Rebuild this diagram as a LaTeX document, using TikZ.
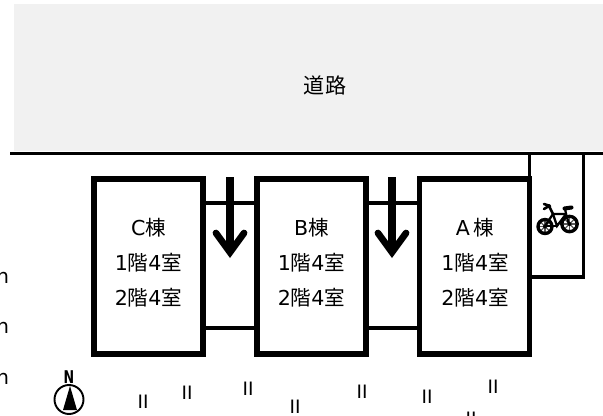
\documentclass[tikz,border=0pt]{standalone}
\usepackage{fontspec}
\setmainfont{DejaVu Sans}
\newfontfamily\cjk{Noto Sans CJK JP}
\usetikzlibrary{arrows.meta}
\usetikzlibrary{calc}
\definecolor{custom-gray}{RGB}{241, 241, 241}
\newcommand{\kai}[1]{1{\cjk 階}4{\cjk 室}\\[0.24cm]2{\cjk 階}4{\cjk 室}}
\tikzset{
  bldg/.style={draw=black, line width=3.3pt, fill=white, minimum height=3.5cm, inner sep=0pt},
  bldglabel/.style={font=\fontsize{11.7}{13}\selectfont, align=center, inner sep=0pt},
  wall/.style={draw=black, line width=1.9pt},
  walkway/.style={draw=black, line width=4pt, -{Straight Barb[length=11pt, width=16pt, line width=3.8pt, line cap=round, line join=miter]}},
  bars/.style={font=\fontsize{10.5}{12}\selectfont, inner sep=0pt},
  cutoff/.style={font=\fontsize{11.4}{13}\selectfont, inner sep=0pt, anchor=base east},
}
\begin{document}
\begin{tikzpicture}[x=0.02cm, y=-0.02cm]
\useasboundingbox (0,0) rectangle (603,416);
% road
\fill[custom-gray] (14,4) rectangle (603,151);
\node[font=\fontsize{12}{13}\selectfont, inner sep=0pt] (roadlabel) at (325,85) {\cjk 道路};
\coordinate (roadstart) at (10,153.5);
\coordinate (roadend) at (603,153.5);
\draw[wall] (roadstart) -- (roadend);
% bike shelter
\coordinate (sheltertl) at (529.5,153.5);
\coordinate (sheltertr) at (583.5,153.5);
\coordinate (shelterbr) at (583.5,277);
\coordinate (shelterbl) at (529.5,277);
\draw[wall] (sheltertl) -- (529.5,180);
\draw[wall] (sheltertr) -- (shelterbr) -- (shelterbl);
% buildings
\node[bldg, minimum width=2.18cm] (cbldg) at (148.5,266.5) {};
\node[bldg, minimum width=2.18cm] (bbldg) at (311.5,266.5) {};
\node[bldg, minimum width=2.2cm] (abldg) at (474.5,266.5) {};
\node[bldglabel] (clabel) at (148.5,263) {C{\cjk 棟}\\[0.24cm]\kai{}};
\node[bldglabel] (blabel) at (311.5,263) {B{\cjk 棟}\\[0.24cm]\kai{}};
\node[bldglabel] (alabel) at (475,263) {A\,{\cjk 棟}\\[0.24cm]\kai{}};
% corridors
\draw[wall] (cbldg.east |- 0,203) -- (bbldg.west |- 0,203);
\draw[wall] (bbldg.east |- 0,203) -- (abldg.west |- 0,203);
\draw[wall] (cbldg.east |- 0,328) -- (bbldg.west |- 0,328);
\draw[wall] (bbldg.east |- 0,328) -- (abldg.west |- 0,328);
% arrows
\coordinate (leftfrom) at (230,177);
\coordinate (leftto) at (230,258);
\coordinate (rightfrom) at (392,177);
\coordinate (rightto) at (392,258);
\draw[walkway] (leftfrom) -- (leftto);
\draw[walkway] (rightfrom) -- (rightto);
% bicycle
\foreach \cx/\cy/\rr in {545/226.5/7, 569.5/224/7.7} {
  \foreach \ang in {0,45,...,315}
    \draw[line width=0.7pt, gray!70!black] (\cx,\cy) -- ++(\ang:\rr);
  \draw[line width=1.9pt] (\cx,\cy) circle (\rr);
  \fill (\cx,\cy) circle (2);
}
\draw[line width=1.3pt, line cap=round] (545,226) -- (553,214) -- (566,214) -- (569,224);
\draw[line width=1.3pt, line cap=round] (553,214) -- (557,226) -- (566,214);
\draw[line width=1.3pt, line cap=round] (545,226) -- (557,226);
\draw[line width=1.5pt, line cap=round] (553,214) -- (549,206) -- (544,209);
\draw[line width=1.5pt, line cap=round] (544,204) -- (550,206);
\draw[line width=2.3pt, line cap=round] (564.5,208.5) -- (571.5,207.5);
\draw[line width=1.3pt] (566,214) -- (565,208);
% compass
\node[font=\bfseries\fontsize{10}{11}\selectfont, inner sep=0pt] (north) at (69,377) {\scalebox{0.72}[1]{N}};
\draw[line width=1.1pt] (69,399.5) circle (14.5);
\fill (70,386) -- (77,410) -- (63,410) -- cycle;
% cut off text on the left
\node[cutoff] (cutn1) at (9.5,283) {n};
\node[cutoff] (cutn2) at (9.5,333) {n};
\node[cutoff] (cutn3) at (9.5,384) {n};
% bars at the bottom
\foreach \nm/\bx/\by in {a/143/402, b/187/393, c/248/389, d/295/407, e/362/392, f/427/397, g/493/387, h/471/419} {
  \node[bars] (bar\nm) at (\bx,\by) {II};
}
\end{tikzpicture}
\end{document}
